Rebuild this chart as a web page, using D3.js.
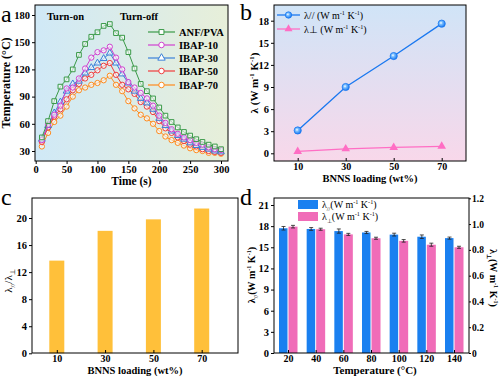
<!DOCTYPE html>
<html>
<head>
<meta charset="utf-8">
<script src="https://cdn.jsdelivr.net/npm/d3@7"></script>
<style>
  body { margin: 0; background: #fff; }
  svg { display: block; }
</style>
</head>
<body>
<svg id="fig" width="500" height="377"></svg>
<script>
// ---- data ----
// panel a: temperature vs time
const times = [10, 20, 30, 40, 50, 60, 70, 80, 90, 100, 110, 120, 130, 140, 150,
  160, 170, 180, 190, 200, 210, 220, 230, 240, 250, 260, 270, 280, 290, 300];
const tempANF = [45, 63, 85, 101, 109, 120, 136, 148, 156, 161, 168, 170, 160, 155, 139,
  121, 104, 96, 88, 78, 69, 62, 56, 51, 47, 43, 40, 37, 35, 32];
const tempIBAP10 = [42, 59, 70, 80, 99, 100, 110, 121, 133, 139, 141, 145, 133, 120, 106,
  100, 94, 88, 80, 69, 61, 54, 49, 45, 42, 39, 37, 34, 32, 31];
const tempIBAP30 = [43, 58, 72, 84, 96, 104, 107, 116, 122, 127, 132, 138, 127, 115, 105,
  96, 88, 83, 76, 66, 58, 52, 47, 43, 39, 36, 34, 32, 30, 29];
const tempIBAP50 = [40, 56, 68, 76, 87, 97, 104, 110, 114, 119, 124, 127, 114, 103, 98,
  93, 84, 79, 73, 63, 55, 50, 45, 41, 37, 35, 32, 30, 29, 28];
const tempIBAP70 = [35, 50, 62, 69, 79, 90, 97, 100, 103, 105, 108, 113, 103, 96, 85,
  77, 70, 66, 60, 52, 46, 42, 39, 36, 33, 31, 30, 28, 28, 27];
const seriesNames = ["ANF/PVA", "IBAP-10", "IBAP-30", "IBAP-50", "IBAP-70"];
const seriesColors = ["#3a9a48", "#d040d0", "#3a80d8", "#f03c3c", "#ff8a1c"];

// panel b / c: loading
const loadings = [10, 30, 50, 70];
const kParallel = [3.1, 9.0, 13.2, 17.6];
const kPerp = [0.25, 0.6, 0.8, 0.95];
const anisotropy = [13.7, 18.1, 19.8, 21.4];

// panel d: temperature dependence
const tempsD = [20, 40, 60, 80, 100, 120, 140];
const kParT = [17.7, 17.6, 17.3, 17.1, 16.8, 16.5, 16.3];
const kParErr = [0.25, 0.2, 0.3, 0.15, 0.2, 0.25, 0.15];
const kPerpT = [0.98, 0.96, 0.92, 0.89, 0.87, 0.84, 0.82];
const kPerpErr = [0.01, 0.008, 0.008, 0.008, 0.01, 0.012, 0.008];

// ---- helpers ----
const FONT = '"Liberation Serif","Times New Roman",serif';
const svg = d3.select("#fig").attr("font-family", FONT);
const defs = svg.append("defs");

function styleAxis(g, fs) {
  g.select(".domain").remove();
  g.selectAll(".tick line").attr("stroke", "#000");
  g.selectAll(".tick text")
    .attr("font-size", fs).attr("font-weight", "bold")
    .attr("font-family", FONT).attr("fill", "#000");
}

// parts: [text, "sup" | "sub" | undefined]
function rich(sel, parts, fs) {
  let shift = 0;
  for (const p of parts) {
    const target = p[1] === "sup" ? -fs * 0.38 : p[1] === "sub" ? fs * 0.28 : 0;
    const ts = sel.append("tspan").text(p[0]).attr("dy", target - shift);
    if (p[1]) ts.attr("font-size", fs * 0.62);
    shift = target;
  }
  return sel;
}

function frame(x0, y0, x1, y1) {
  svg.append("rect")
    .attr("x", x0).attr("y", y0)
    .attr("width", x1 - x0).attr("height", y1 - y0)
    .attr("fill", "none").attr("stroke", "#000").attr("stroke-width", 1);
}

function panelLetter(s, x, y) {
  svg.append("text").attr("x", x).attr("y", y)
    .attr("font-size", 24).text(s);
}

// ---- panel a ----
{
  const fx0 = 35, fx1 = 228, fy0 = 5, fy1 = 161;
  const grad = defs.append("linearGradient").attr("id", "gA")
    .attr("x1", "0").attr("x2", "1").attr("y1", "0").attr("y2", "0");
  grad.append("stop").attr("offset", "0").attr("stop-color", "#d0e9f7");
  grad.append("stop").attr("offset", "1").attr("stop-color", "#e7efd9");
  svg.append("rect").attr("x", fx0).attr("y", fy0)
    .attr("width", fx1 - fx0).attr("height", fy1 - fy0).attr("fill", "url(#gA)");

  const x = d3.scaleLinear().domain([0, 300]).range([35.7, 221]);
  const y = d3.scaleLinear().domain([30, 180]).range([151, 15]);

  svg.append("g").attr("transform", `translate(${fx0},0)`)
    .call(d3.axisLeft(y).tickValues([30, 60, 90, 120, 150, 180]).tickSize(3).tickPadding(2))
    .call(g => styleAxis(g, 10.5));
  svg.append("g").attr("transform", `translate(0,${fy1})`)
    .call(d3.axisBottom(x).tickValues([0, 50, 100, 150, 200, 250, 300]).tickSize(3).tickPadding(2))
    .call(g => styleAxis(g, 10.5));

  const all = [tempANF, tempIBAP10, tempIBAP30, tempIBAP50, tempIBAP70];
  const symbols = [d3.symbolSquare, d3.symbolCircle, d3.symbolTriangle, d3.symbolCircle, d3.symbolCircle];
  const line = d3.line().x(d => x(d[0])).y(d => y(d[1]));

  // draw in reverse so green ends on top like the reference
  for (let i = all.length - 1; i >= 0; i--) {
    const pts = times.map((t, j) => [t, all[i][j]]);
    svg.append("path").datum(pts).attr("d", line)
      .attr("fill", "none").attr("stroke", seriesColors[i]).attr("stroke-width", 1);
    svg.append("g").selectAll("path").data(pts).join("path")
      .attr("transform", d => `translate(${x(d[0])},${y(d[1])})`)
      .attr("d", d3.symbol().type(symbols[i]).size(symbols[i] === d3.symbolTriangle ? 20 : 22))
      .attr("fill", "#fff").attr("fill-opacity", 0.55)
      .attr("stroke", seriesColors[i]).attr("stroke-width", 1);
  }

  // legend
  const ly = [32, 45, 58, 71, 85];
  seriesNames.forEach((name, i) => {
    svg.append("line").attr("x1", 148).attr("x2", 175).attr("y1", ly[i]).attr("y2", ly[i])
      .attr("stroke", seriesColors[i]).attr("stroke-width", 1.2);
    svg.append("path").attr("transform", `translate(161.5,${ly[i]})`)
      .attr("d", d3.symbol().type(symbols[i]).size(24))
      .attr("fill", "#fff").attr("stroke", seriesColors[i]).attr("stroke-width", 1);
    svg.append("text").attr("x", 179).attr("y", ly[i] + 3.8)
      .attr("font-size", 10.5).attr("font-weight", "bold").text(name);
  });

  svg.append("text").attr("x", 47).attr("y", 20).attr("font-size", 10.5)
    .attr("font-weight", "bold").text("Turn-on");
  svg.append("text").attr("x", 120).attr("y", 20).attr("font-size", 10.5)
    .attr("font-weight", "bold").text("Turn-off");

  svg.append("text").attr("x", (fx0 + fx1) / 2).attr("y", 185)
    .attr("text-anchor", "middle").attr("font-size", 11.5).attr("font-weight", "bold")
    .text("Time (s)");
  svg.append("text").attr("transform", `translate(10,${(fy0 + fy1) / 2}) rotate(-90)`)
    .attr("text-anchor", "middle").attr("font-size", 12).attr("font-weight", "bold")
    .text("Temperature (°C)");

  frame(fx0, fy0, fx1, fy1);
  panelLetter("a", 1, 22);
}

// ---- panel b ----
{
  const fx0 = 274, fx1 = 466, fy0 = 5, fy1 = 161;
  const grad = defs.append("linearGradient").attr("id", "gB")
    .attr("x1", "0").attr("x2", "0").attr("y1", "0").attr("y2", "1");
  grad.append("stop").attr("offset", "0").attr("stop-color", "#d0e4f7");
  grad.append("stop").attr("offset", "1").attr("stop-color", "#f8d8ea");
  svg.append("rect").attr("x", fx0).attr("y", fy0)
    .attr("width", fx1 - fx0).attr("height", fy1 - fy0).attr("fill", "url(#gB)");

  const ball = defs.append("radialGradient").attr("id", "ball")
    .attr("cx", "0.4").attr("cy", "0.4").attr("r", "0.6");
  ball.append("stop").attr("offset", "0").attr("stop-color", "#ffffff");
  ball.append("stop").attr("offset", "0.35").attr("stop-color", "#7cc0ff");
  ball.append("stop").attr("offset", "1").attr("stop-color", "#1a78f0");

  const x = d3.scaleLinear().domain([10, 70]).range([297.7, 441.7]);
  const y = d3.scaleLinear().domain([0, 18]).range([153.3, 20.7]);

  svg.append("g").attr("transform", `translate(${fx0},0)`)
    .call(d3.axisLeft(y).tickValues([0, 3, 6, 9, 12, 15, 18]).tickSize(3).tickPadding(2))
    .call(g => styleAxis(g, 10.5));
  svg.append("g").attr("transform", `translate(0,${fy1})`)
    .call(d3.axisBottom(x).tickValues(loadings).tickSize(-3).tickPadding(2))
    .call(g => styleAxis(g, 10));

  const line = d3.line().x(d => x(d[0])).y(d => y(d[1]));
  const par = loadings.map((l, i) => [l, kParallel[i]]);
  const perp = loadings.map((l, i) => [l, kPerp[i]]);

  svg.append("path").datum(perp).attr("d", line)
    .attr("fill", "none").attr("stroke", "#ff6ec4").attr("stroke-width", 1.3);
  svg.append("g").selectAll("path").data(perp).join("path")
    .attr("transform", d => `translate(${x(d[0])},${y(d[1])})`)
    .attr("d", d3.symbol().type(d3.symbolTriangle).size(32))
    .attr("fill", "#ff6ec4");

  svg.append("path").datum(par).attr("d", line)
    .attr("fill", "none").attr("stroke", "#1a78f0").attr("stroke-width", 1.3);
  svg.append("g").selectAll("circle").data(par).join("circle")
    .attr("cx", d => x(d[0])).attr("cy", d => y(d[1])).attr("r", 3.6)
    .attr("fill", "url(#ball)").attr("stroke", "#1a78f0").attr("stroke-width", 0.8);

  // legend
  svg.append("line").attr("x1", 277).attr("x2", 300).attr("y1", 15).attr("y2", 15)
    .attr("stroke", "#1a78f0").attr("stroke-width", 1.3);
  svg.append("circle").attr("cx", 288.5).attr("cy", 15).attr("r", 3.2)
    .attr("fill", "url(#ball)").attr("stroke", "#1a78f0").attr("stroke-width", 0.8);
  rich(svg.append("text").attr("x", 304).attr("y", 18.5).attr("font-size", 10),
    [["λ// (W m"], ["-1", "sup"], [" K"], ["-1", "sup"], [")"]], 10);

  svg.append("line").attr("x1", 277).attr("x2", 300).attr("y1", 29).attr("y2", 29)
    .attr("stroke", "#ff6ec4").attr("stroke-width", 1.3);
  svg.append("path").attr("transform", "translate(288.5,29)")
    .attr("d", d3.symbol().type(d3.symbolTriangle).size(28)).attr("fill", "#ff6ec4");
  rich(svg.append("text").attr("x", 304).attr("y", 32.5).attr("font-size", 10),
    [["λ⊥ (W m"], ["-1", "sup"], [" K"], ["-1", "sup"], [")"]], 10);

  svg.append("text").attr("x", (fx0 + fx1) / 2).attr("y", 182)
    .attr("text-anchor", "middle").attr("font-size", 10.5).attr("font-weight", "bold")
    .text("BNNS loading (wt%)");
  rich(svg.append("text").attr("transform", `translate(258,${(fy0 + fy1) / 2}) rotate(-90)`)
    .attr("text-anchor", "middle").attr("font-size", 11).attr("font-weight", "bold"),
    [["λ (W m"], ["-1", "sup"], [" K"], ["-1", "sup"], [")"]], 11);

  frame(fx0, fy0, fx1, fy1);
  panelLetter("b", 240, 20);
}

// ---- panel c ----
{
  const fx0 = 32, fx1 = 238, fy0 = 198, fy1 = 353;
  const x = d3.scaleLinear().domain([10, 70]).range([56.8, 201.7]);
  const y = d3.scaleLinear().domain([0, 20]).range([353.3, 218]);
  const bw = 15;

  svg.append("g").selectAll("rect").data(loadings).join("rect")
    .attr("x", d => x(d) - bw / 2).attr("width", bw)
    .attr("y", (d, i) => y(anisotropy[i]))
    .attr("height", (d, i) => y(0) - y(anisotropy[i]))
    .attr("fill", "#ffc03a");

  svg.append("g").attr("transform", `translate(${fx0},0)`)
    .call(d3.axisLeft(y).tickValues([0, 4, 8, 12, 16, 20]).tickSize(3).tickPadding(2))
    .call(g => styleAxis(g, 10.5));
  svg.append("g").attr("transform", `translate(0,${fy1})`)
    .call(d3.axisBottom(x).tickValues(loadings).tickSize(-3).tickPadding(2))
    .call(g => styleAxis(g, 10));

  svg.append("text").attr("x", (fx0 + fx1) / 2).attr("y", 374)
    .attr("text-anchor", "middle").attr("font-size", 10.5).attr("font-weight", "bold")
    .text("BNNS loading (wt%)");
  rich(svg.append("text").attr("transform", `translate(12,281) rotate(-90)`)
    .attr("text-anchor", "middle").attr("font-size", 11),
    [["λ"], ["//", "sub"], ["/λ"], ["⊥", "sub"]], 11);

  frame(fx0, fy0, fx1, fy1);
  panelLetter("c", 1, 205);
}

// ---- panel d ----
{
  const fx0 = 274, fx1 = 469, fy0 = 198, fy1 = 353;
  const x = d3.scaleLinear().domain([20, 140]).range([288, 454]);
  const yL = d3.scaleLinear().domain([0, 21]).range([353, 205]);
  const yR = d3.scaleLinear().domain([0, 1.2]).range([353, 198.3]);
  const bw = 9;
  const blue = "#1a80f0", pink = "#f06cb8";

  const g = svg.append("g");
  g.selectAll(".bp").data(tempsD).join("rect").attr("class", "bp")
    .attr("x", d => x(d) - bw).attr("width", bw - 0.5)
    .attr("y", (d, i) => yL(kParT[i])).attr("height", (d, i) => yL(0) - yL(kParT[i]))
    .attr("fill", blue);
  g.selectAll(".pp").data(tempsD).join("rect").attr("class", "pp")
    .attr("x", d => x(d) + 0.5).attr("width", bw)
    .attr("y", (d, i) => yR(kPerpT[i])).attr("height", (d, i) => yR(0) - yR(kPerpT[i]))
    .attr("fill", pink);

  // error bars
  const errs = [];
  tempsD.forEach((t, i) => {
    errs.push({ cx: x(t) - bw / 2, lo: yL(kParT[i] - kParErr[i]), hi: yL(kParT[i] + kParErr[i]) });
    errs.push({ cx: x(t) + bw / 2 + 0.5, lo: yR(kPerpT[i] - kPerpErr[i]), hi: yR(kPerpT[i] + kPerpErr[i]) });
  });
  const eg = g.selectAll(".err").data(errs).join("g").attr("class", "err")
    .attr("stroke", "#222").attr("stroke-width", 0.8);
  eg.append("line").attr("x1", d => d.cx).attr("x2", d => d.cx).attr("y1", d => d.lo).attr("y2", d => d.hi);
  eg.append("line").attr("x1", d => d.cx - 2).attr("x2", d => d.cx + 2).attr("y1", d => d.lo).attr("y2", d => d.lo);
  eg.append("line").attr("x1", d => d.cx - 2).attr("x2", d => d.cx + 2).attr("y1", d => d.hi).attr("y2", d => d.hi);

  svg.append("g").attr("transform", `translate(${fx0},0)`)
    .call(d3.axisLeft(yL).tickValues([0, 3, 6, 9, 12, 15, 18, 21]).tickSize(3).tickPadding(2))
    .call(g => styleAxis(g, 10.5));
  svg.append("g").attr("transform", `translate(${fx1},0)`)
    .call(d3.axisRight(yR).tickValues([0, 0.2, 0.4, 0.6, 0.8, 1.0, 1.2])
      .tickFormat(d => d === 0 ? "0" : d3.format(".1f")(d)).tickSize(2).tickPadding(1))
    .call(g => styleAxis(g, 9.5));
  svg.append("g").attr("transform", `translate(0,${fy1})`)
    .call(d3.axisBottom(x).tickValues(tempsD).tickSize(-3).tickPadding(2))
    .call(g => styleAxis(g, 10));

  // legend
  svg.append("rect").attr("x", 298).attr("y", 200).attr("width", 20).attr("height", 9).attr("fill", blue);
  svg.append("rect").attr("x", 298).attr("y", 212).attr("width", 20).attr("height", 9).attr("fill", pink);
  rich(svg.append("text").attr("x", 322).attr("y", 208).attr("font-size", 10),
    [["λ"], ["//", "sub"], ["(W m"], ["-1", "sup"], [" K"], ["-1", "sup"], [")"]], 10);
  rich(svg.append("text").attr("x", 322).attr("y", 220).attr("font-size", 10),
    [["λ"], ["⊥", "sub"], ["(W m"], ["-1", "sup"], [" K"], ["-1", "sup"], [")"]], 10);

  svg.append("text").attr("x", 375).attr("y", 374)
    .attr("text-anchor", "middle").attr("font-size", 11).attr("font-weight", "bold")
    .text("Temperature (°C)");
  rich(svg.append("text").attr("transform", `translate(255,275) rotate(-90)`)
    .attr("text-anchor", "middle").attr("font-size", 10).attr("font-weight", "bold"),
    [["λ"], ["//", "sub"], ["(W m"], ["-1", "sup"], [" K"], ["-1", "sup"], [")"]], 10);
  rich(svg.append("text").attr("transform", `translate(490,278) rotate(90)`)
    .attr("text-anchor", "middle").attr("font-size", 10).attr("font-weight", "bold"),
    [["λ"], ["⊥", "sub"], ["(W m"], ["-1", "sup"], [" K"], ["-1", "sup"], [")"]], 10);

  frame(fx0, fy0, fx1, fy1);
  panelLetter("d", 240, 205);
}
</script>
</body>
</html>
